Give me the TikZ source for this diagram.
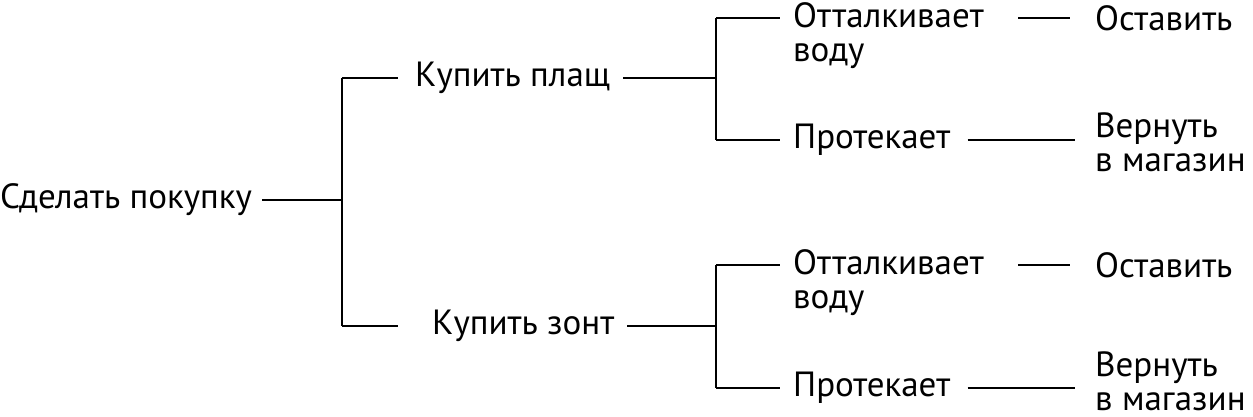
\documentclass[tikz,border=0pt]{standalone}
\usepackage{fontspec}
\setmainfont{PT Sans}
\begin{document}
\begin{tikzpicture}[x=1pt,y=-1pt,
  lbl/.style={anchor=west,inner sep=0pt,align=left,font=\fontsize{35}{34}\selectfont},
  ln/.style={line width=2pt}]
\useasboundingbox (0,0) rectangle (1253,417);
\node[lbl] (root) at (0,200) {Сделать покупку};
\node[lbl] (plasch) at (415,78) {Купить плащ};
\node[lbl] (zont) at (432,326) {Купить зонт};
\node[lbl] (o1) at (793,36) {Отталкивает\\воду};
\node[lbl] (p1) at (793,140) {Протекает};
\node[lbl] (s1) at (1095,18) {Оставить};
\node[lbl] (v1) at (1095,142) {Вернуть\\в магазин};
\node[lbl] (o2) at (793,283) {Отталкивает\\воду};
\node[lbl] (p2) at (793,388) {Протекает};
\node[lbl] (s2) at (1095,265) {Оставить};
\node[lbl] (v2) at (1095,381) {Вернуть\\в магазин};
\coordinate (a) at (342,200);
\coordinate (b) at (716,78);
\coordinate (c) at (716,326);
\draw[ln] ([xshift=10pt]root.east) -- (a);
\draw[ln] (a |- plasch.west) -- (a |- zont.west);
\draw[ln] (a |- plasch.west) -- ([xshift=-17pt]plasch.west);
\draw[ln] (a |- zont.west) -- ([xshift=-34pt]zont.west);
\draw[ln] ([xshift=13pt]plasch.east) -- (b);
\draw[ln] ([xshift=13pt]zont.east) -- (c);
\draw[ln] (716,18) -- (716,140);
\draw[ln] (716,265) -- (716,388);
\draw[ln] (716,18) -- (780,18);
\draw[ln] (716,140) -- ([xshift=-13pt]p1.west);
\draw[ln] (716,265) -- (780,265);
\draw[ln] (716,388) -- ([xshift=-13pt]p2.west);
\draw[ln] (1018,18) -- ([xshift=-25pt]s1.west);
\draw[ln] (1018,265) -- ([xshift=-25pt]s2.west);
\draw[ln] ([xshift=17pt]p1.east) -- (1075,140);
\draw[ln] ([xshift=17pt]p2.east) -- (1075,388);
\end{tikzpicture}
\end{document}
